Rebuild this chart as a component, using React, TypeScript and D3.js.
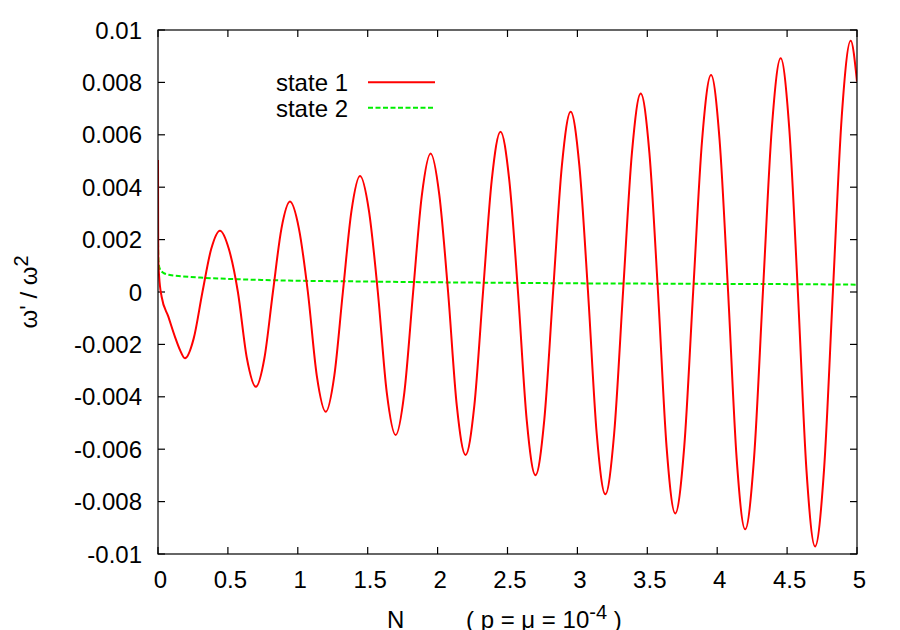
import React from 'react';
import * as d3 from 'd3';

const xTickValues = [0, 0.5, 1, 1.5, 2, 2.5, 3, 3.5, 4, 4.5, 5];
const xTickLabels = ['0', '0.5', '1', '1.5', '2', '2.5', '3', '3.5', '4', '4.5', '5'];
const yTickValues = [-0.01, -0.008, -0.006, -0.004, -0.002, 0, 0.002, 0.004, 0.006, 0.008, 0.01];
const yTickLabels = ['-0.01', '-0.008', '-0.006', '-0.004', '-0.002', '0', '0.002', '0.004', '0.006', '0.008', '0.01'];

const seriesNames = ['state 1', 'state 2'];
const seriesColors = ['#ff0000', '#00ee00'];

// state 1: [N, omega'/omega^2]
const state1: [number, number][] = [
  [0, 0.00504], [0.001, 0.0024], [0.002, 0.0012], [0.008, 0.0006], [0.026, -0.00018],
  [0.074, -0.00094], [0.122, -0.00172], [0.157, -0.00221], [0.193, -0.00253],
  [0.2555, -0.00177], [0.318, 0], [0.3805, 0.00164], [0.443, 0.00234],
  [0.507, 0.00164], [0.5715, 0], [0.6358, -0.00253], [0.70, -0.00362],
  [0.761, -0.00253], [0.822, 0], [0.883, 0.00242], [0.944, 0.00345],
  [1.008, 0.00242], [1.072, 0], [1.136, -0.0032], [1.20, -0.00457],
  [1.261, -0.0032], [1.3225, 0], [1.384, 0.0031], [1.445, 0.00443],
  [1.509, 0.0031], [1.5725, 0], [1.636, -0.00382], [1.70, -0.00546],
  [1.7625, -0.00382], [1.825, 0], [1.8875, 0.0037], [1.95, 0.00529],
  [2.0125, 0.0037], [2.075, 0], [2.1375, -0.00435], [2.20, -0.00622],
  [2.2625, -0.00435], [2.325, 0], [2.3875, 0.00428], [2.45, 0.00612],
  [2.5125, 0.00428], [2.575, 0], [2.6375, -0.00489], [2.70, -0.00699],
  [2.763, -0.00489], [2.826, 0], [2.889, 0.00482], [2.952, 0.00688],
  [3.014, 0.00482], [3.076, 0], [3.138, -0.0054], [3.20, -0.00772],
  [3.263, -0.0054], [3.3265, 0], [3.39, 0.00531], [3.453, 0.00758],
  [3.515, 0.00531], [3.5765, 0], [3.638, -0.00592], [3.70, -0.00845],
  [3.764, -0.00592], [3.828, 0], [3.892, 0.0058], [3.956, 0.00828],
  [4.017, 0.0058], [4.078, 0], [4.139, -0.00634], [4.20, -0.00906],
  [4.2635, -0.00634], [4.327, 0], [4.3905, 0.00624], [4.454, 0.00892],
  [4.5155, 0.00624], [4.577, 0], [4.6385, -0.0068], [4.70, -0.00971],
  [4.764, -0.0068], [4.8275, 0], [4.891, 0.00671], [4.955, 0.00959],
  [5.0, 0.00803],
];

// state 2: [N, omega'/omega^2]
const state2: [number, number][] = [
  [0, 0.0019], [0.003, 0.0012], [0.012, 0.0009], [0.036, 0.00074], [0.085, 0.00065],
  [0.17, 0.0006], [0.3, 0.00055], [0.5, 0.0005], [0.75, 0.00046], [1.0, 0.00043],
  [1.5, 0.0004], [2.0, 0.00037], [2.5, 0.00035], [3.0, 0.00033], [3.5, 0.00032],
  [4.0, 0.00031], [4.5, 0.0003], [5.0, 0.00028],
];

const FONT = '"Liberation Sans", Arial, Helvetica, sans-serif';

export default function App() {
  const left = 158, right = 857, top = 30, bottom = 554;
  const x = d3.scaleLinear().domain([0, 5]).range([left, right]);
  const y = d3.scaleLinear().domain([-0.01, 0.01]).range([bottom, top]);
  const line = d3
    .line<[number, number]>()
    .x((d) => x(d[0]))
    .y((d) => y(d[1]))
    .curve(d3.curveMonotoneX);
  const tick = 7;
  const fs = 24;

  return (
    <svg
      width={900}
      height={630}
      style={{ position: 'absolute', left: 0, top: 0, background: '#fff' }}
      fontFamily={FONT}
    >
      <rect x={0} y={0} width={900} height={630} fill="#fff" />
      <defs>
        <clipPath id="plotclip">
          <rect x={left} y={top - 2} width={right - left} height={bottom - top + 4} />
        </clipPath>
      </defs>

      {/* ticks */}
      <g stroke="#000" strokeWidth={1.2}>
        {xTickValues.map((v, i) => (
          <g key={'xt' + i}>
            <line x1={x(v)} x2={x(v)} y1={bottom} y2={bottom - tick} />
            <line x1={x(v)} x2={x(v)} y1={top} y2={top + tick} />
          </g>
        ))}
        {yTickValues.map((v, i) => (
          <g key={'yt' + i}>
            <line x1={left} x2={left + tick} y1={y(v)} y2={y(v)} />
            <line x1={right} x2={right - tick} y1={y(v)} y2={y(v)} />
          </g>
        ))}
      </g>

      {/* tick labels */}
      <g fontSize={fs} fill="#000">
        {xTickValues.map((v, i) => (
          <text key={'xl' + i} x={x(v) + 2.5} y={588} textAnchor="middle">
            {xTickLabels[i]}
          </text>
        ))}
        {yTickValues.map((v, i) => (
          <text key={'yl' + i} x={142} y={y(v) + 8.5} textAnchor="end">
            {yTickLabels[i]}
          </text>
        ))}
      </g>

      {/* data */}
      <g clipPath="url(#plotclip)" fill="none">
        <path d={line(state2) || ''} stroke={seriesColors[1]} strokeWidth={2} strokeDasharray="5,2.5" />
        <path d={line(state1) || ''} stroke={seriesColors[0]} strokeWidth={2} />
      </g>

      {/* frame */}
      <rect x={left} y={top} width={right - left} height={bottom - top} fill="none" stroke="#000" strokeWidth={1.2} />

      {/* legend */}
      <g fontSize={fs}>
        <text x={348} y={90.5} textAnchor="end">{seriesNames[0]}</text>
        <line x1={368} x2={435} y1={82.3} y2={82.3} stroke={seriesColors[0]} strokeWidth={2} />
        <text x={348} y={116.5} textAnchor="end">{seriesNames[1]}</text>
        <line x1={368} x2={435} y1={107.8} y2={107.8} stroke={seriesColors[1]} strokeWidth={2} strokeDasharray="5,2.5" />
      </g>

      {/* axis labels */}
      <g fontSize={fs}>
        <text x={387} y={628}>N</text>
        <text x={466} y={628}>
          ( p = μ = 10<tspan dy={-9} fontSize={20}>-4</tspan>
          <tspan dy={9}> )</tspan>
        </text>
        <text transform="translate(37,292) rotate(-90)" textAnchor="middle">
          ω' / ω<tspan dy={-9} fontSize={20}>2</tspan>
        </text>
      </g>
    </svg>
  );
}
